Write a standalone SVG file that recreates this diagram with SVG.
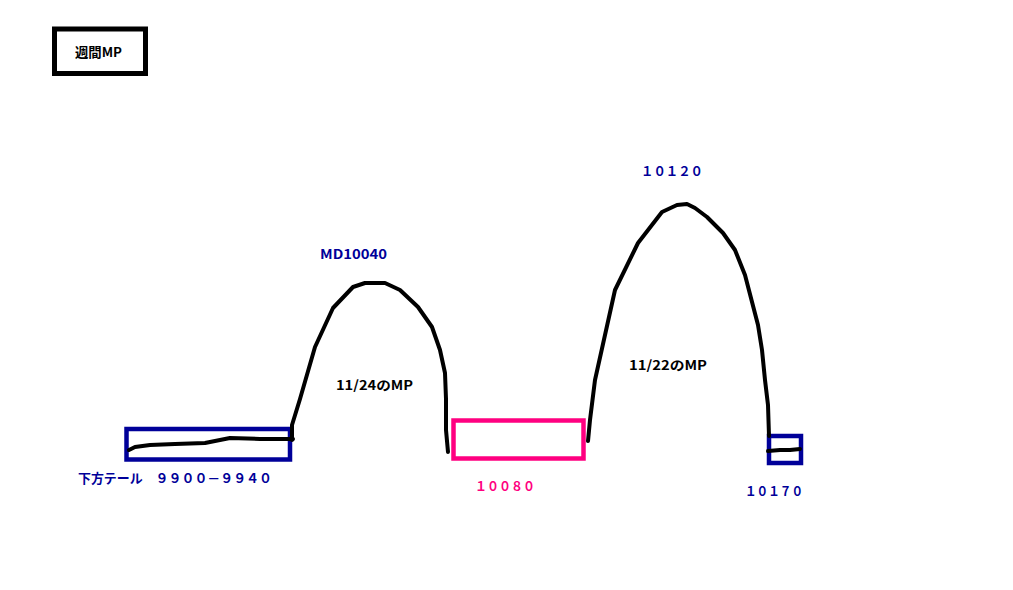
<svg xmlns="http://www.w3.org/2000/svg" width="1013" height="590" viewBox="0 0 1013 590">
<style>
.box{fill:none;stroke-width:4.5}
.navy{stroke:#000099}
.pink{stroke:#ff0080}
.curve{fill:none;stroke:#000;stroke-width:4;stroke-linejoin:round;stroke-linecap:round}
.t{font-family:"Noto Sans CJK JP","Noto Sans",sans-serif;font-size:13px;font-weight:bold}
.blue{fill:#000099}
.pk{fill:#ff0080}
.blk{fill:#000}
</style>
<rect width="1013" height="590" fill="#fff"/>
<g id="title">
<rect x="54.5" y="29" width="91" height="44.5" fill="none" stroke="#000" stroke-width="5"/>
<text class="t blk" x="75" y="57" textLength="47" lengthAdjust="spacingAndGlyphs">週間MP</text>
</g>
<g id="lower-tail">
<rect class="box navy" x="126.5" y="429" width="163.5" height="30.5"/>
<text class="t blue" x="78" y="483" textLength="194" lengthAdjust="spacingAndGlyphs">下方テール　９９００－９９４０</text>
</g>
<g id="box-10080">
<rect class="box pink" x="453.5" y="420.5" width="130" height="38" stroke-width="5"/>
<text class="t pk" x="475" y="491" textLength="60" lengthAdjust="spacingAndGlyphs">１００８０</text>
</g>
<g id="box-10170">
<rect class="box navy" x="769" y="436" width="32" height="27"/>
<text class="t blue" x="745" y="496" textLength="58" lengthAdjust="spacingAndGlyphs">１０１７０</text>
</g>
<g id="peak-1">
<text class="t blue" x="320" y="259" textLength="67" lengthAdjust="spacingAndGlyphs">MD10040</text>
<text class="t blk" x="336" y="390" textLength="77" lengthAdjust="spacingAndGlyphs">11/24のMP</text>
</g>
<g id="peak-2">
<text class="t blue" x="641" y="176" textLength="62" lengthAdjust="spacingAndGlyphs">１０１２０</text>
<text class="t blk" x="629" y="370" textLength="78" lengthAdjust="spacingAndGlyphs">11/22のMP</text>
</g>
<g id="connectors">
<path class="curve" d="M129,450 L135,447 L150,445 L175,444 L205,443 L230,438 L260,439 L293,439"/>
<path class="curve" d="M292,440 L292,425 L300,399 L315,347 L333,308 L353,287 L365,283 L385,283 L400,290 L418,307 L432,327 L440,350 L445,373 L446,399 L446,430 L448,452"/>
<path class="curve" d="M588,441 L590,420 L595,380 L615,290 L638,243 L662,212 L677,205 L687,204 L695,208 L707,217 L723,233 L735,250 L745,275 L758,325 L762,350 L765,380 L768,405 L769,436"/>
<path class="curve" d="M768,451 L780,450 L790,450 L800,449"/>
</g>
</svg>
